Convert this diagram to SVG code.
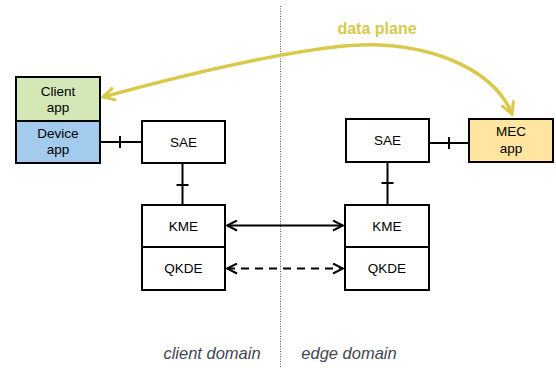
<svg xmlns="http://www.w3.org/2000/svg" width="556" height="368" viewBox="0 0 556 368">
<defs>
<style>
.box{stroke:#000;stroke-width:2}
.t{font-family:"Liberation Sans",Arial,sans-serif;font-size:13.5px;fill:#000;text-anchor:middle}
.dom{font-family:"Liberation Sans",Arial,sans-serif;font-size:16.5px;font-style:italic;fill:#3f4650;text-anchor:middle}
.ln{stroke:#000;stroke-width:2;fill:none}
</style>
<marker id="ah" viewBox="0 0 12 12" refX="11" refY="6" markerWidth="12" markerHeight="12" markerUnits="userSpaceOnUse" orient="auto-start-reverse">
<path d="M1,1 L11,6 L1,11" fill="none" stroke="#000" stroke-width="2"/>
</marker>
<marker id="ay" viewBox="0 0 16 16" refX="14" refY="8" markerWidth="16" markerHeight="16" markerUnits="userSpaceOnUse" orient="auto-start-reverse">
<path d="M2,1.5 L14,8 L2,14.5" fill="none" stroke="#d8c94a" stroke-width="3"/>
</marker>
</defs>
<rect width="556" height="368" fill="#fff"/>
<line x1="280.5" y1="6" x2="280.5" y2="368" stroke="#555" stroke-width="1" stroke-dasharray="1,1.5"/>
<g id="connectors">
<path class="ln" d="M100,142 H142 M120,136 V148"/>
<path class="ln" d="M182.5,163 V205 M176.5,185 H188.5"/>
<path class="ln" d="M429,143 H469 M449,137 V149"/>
<path class="ln" d="M387.5,162 V205 M381.5,183 H393.5"/>
<path class="ln" d="M227,225.5 H343" marker-start="url(#ah)" marker-end="url(#ah)"/>
<path class="ln" d="M227,268.5 H343" stroke-dasharray="8,6" marker-start="url(#ah)" marker-end="url(#ah)"/>
<path id="dataplane" d="M103,97 C220,65 330,42 380,45 C440,48 495,72 512,114" fill="none" stroke="#d8c94a" stroke-width="3.5" marker-start="url(#ay)" marker-end="url(#ay)"/>
</g>
<g id="client-app"><rect class="box" x="16" y="77" width="84" height="44" fill="#d3e8b6"/><text class="t" x="58" y="96">Client</text><text class="t" x="58" y="112">app</text></g>
<g id="device-app"><rect class="box" x="16" y="121" width="84" height="42" fill="#a3cbed"/><text class="t" x="58" y="138">Device</text><text class="t" x="58" y="154">app</text></g>
<g id="sae-left"><rect class="box" x="142" y="121" width="83" height="42" fill="#fff"/><text class="t" x="183.5" y="147">SAE</text></g>
<g id="kme-left"><rect class="box" x="142" y="205" width="83" height="42" fill="#fff"/><text class="t" x="183.5" y="231">KME</text></g>
<g id="qkde-left"><rect class="box" x="142" y="247" width="83" height="43" fill="#fff"/><text class="t" x="183.5" y="273">QKDE</text></g>
<g id="sae-right"><rect class="box" x="346" y="119" width="83" height="43" fill="#fff"/><text class="t" x="387.5" y="145">SAE</text></g>
<g id="mec-app"><rect class="box" x="469" y="119" width="84" height="43" fill="#ffe59f"/><text class="t" x="511" y="136">MEC</text><text class="t" x="511" y="153">app</text></g>
<g id="kme-right"><rect class="box" x="345" y="205" width="84" height="42" fill="#fff"/><text class="t" x="387" y="231">KME</text></g>
<g id="qkde-right"><rect class="box" x="345" y="247" width="84" height="43" fill="#fff"/><text class="t" x="387" y="273">QKDE</text></g>
<text x="377" y="34" font-family="Liberation Sans,Arial,sans-serif" font-size="16" font-weight="bold" fill="#d8c94a" text-anchor="middle">data plane</text>
<text class="dom" x="212" y="359">client domain</text>
<text class="dom" x="349" y="359">edge domain</text>
</svg>
